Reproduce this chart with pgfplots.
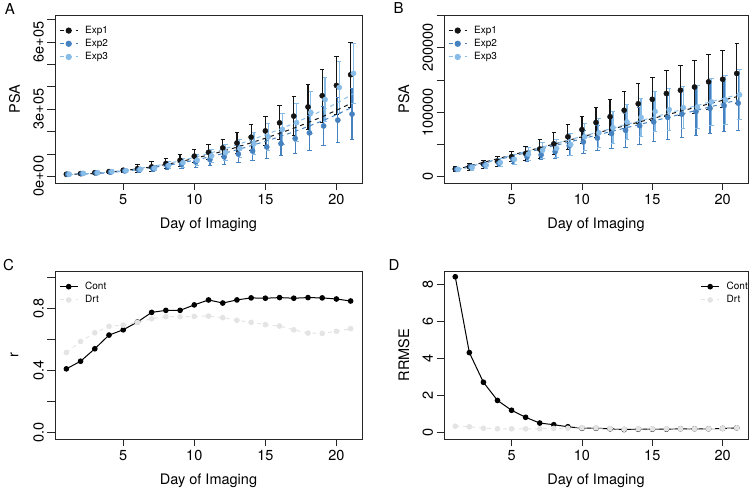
\documentclass[border=0pt]{standalone}
\usepackage{fontspec}
\setmainfont{TeX Gyre Heros}
\usepackage{pgfplots}
\usepackage{pgfplotstable}
\pgfplotsset{compat=1.18}

\definecolor{expone}{RGB}{20,20,20}
\definecolor{exptwo}{RGB}{70,130,192}
\definecolor{expthree}{RGB}{135,188,232}
\definecolor{drtgray}{RGB}{228,228,228}

% ---- panel A: PSA, exponential scale ----
\pgfplotstableread{
x y e
1 9000 2000
2 12000 3000
3 16000 4000
4 21000 7000
5 27000 10000
6 34000 17000
7 42000 22000
8 57000 24000
9 72000 27000
10 90000 29000
11 107000 33000
12 127000 39000
13 149000 47000
14 175000 58000
15 203000 66000
16 239000 76000
17 269000 86000
18 310000 102000
19 360000 118000
20 406000 131000
21 454000 146000
}\Aone
\pgfplotstableread{
x y e
1.1 9000 2000
2.1 12000 3000
3.1 15000 4000
4.1 18000 5000
5.1 24000 7000
6.1 28000 9000
7.1 34000 12000
8.1 45000 16000
9.1 54000 20000
10.1 64000 24000
11.1 75000 28000
12.1 87000 33000
13.1 99000 39000
14.1 113000 43000
15.1 131000 52000
16.1 146000 55000
17.1 169000 68000
18.1 194000 78000
19.1 225000 89000
20.1 251000 102000
21.1 278000 114000
}\Atwo
\pgfplotstableread{
x y e
1.2 9000 2000
2.2 13000 3000
3.2 16000 4000
4.2 21000 5000
5.2 25000 7000
6.2 31000 9000
7.2 37000 12000
8.2 49000 16000
9.2 61000 20000
10.2 72000 25000
11.2 91000 30000
12.2 106000 36000
13.2 124000 42000
14.2 146000 50000
15.2 176000 60000
16.2 210000 70000
17.2 240000 85000
18.2 285000 95000
19.2 343000 97000
20.2 397000 118000
21.2 460000 134000
}\Athree
% fitted curves, panel A
\pgfplotstableread{
x a b c
1 8000 8000 8000
2 10000 10000 10000
3 13000 12000 14000
4 18000 17000 19000
5 25000 23000 27000
6 33000 30000 36000
7 42000 39000 46000
8 53000 49000 58000
9 65000 60000 72000
10 80000 73000 88000
11 95000 87000 105000
12 112000 103000 124000
13 130000 120000 145000
14 150000 139000 167000
15 170000 158000 190000
16 192000 179000 215000
17 215000 201000 242000
18 240000 225000 270000
19 266000 250000 300000
20 295000 278000 333000
21 325000 308000 370000
}\Afit

% ---- panel B ----
\pgfplotstableread{
x y e
1 12000 3500
2 15500 5500
3 19600 6000
4 24000 8000
5 31000 8000
6 36000 11500
7 43000 14000
8 51000 17000
9 62000 19000
10 73000 21000
11 84000 23000
12 93000 27000
13 103000 29000
14 113000 31000
15 120000 33000
16 129000 36000
17 134000 39000
18 139000 41000
19 147000 43000
20 151000 44000
21 160000 47000
}\Bone
\pgfplotstableread{
x y e
1.1 11500 2500
2.1 15500 2500
3.1 18000 3000
4.1 21000 4000
5.1 27000 6000
6.1 31000 8000
7.1 34000 8000
8.1 39000 10000
9.1 48000 15000
10.1 54000 18000
11.1 60000 20000
12.1 67000 23000
13.1 72000 26000
14.1 79000 29000
15.1 85000 31000
16.1 92000 34000
17.1 97000 36000
18.1 101000 37000
19.1 106000 39000
20.1 110000 40000
21.1 114000 43000
}\Btwo
\pgfplotstableread{
x y e
1.2 11500 3000
2.2 14500 4000
3.2 18000 5000
4.2 22000 6000
5.2 27000 8000
6.2 35000 10000
7.2 41000 12000
8.2 44000 14000
9.2 50000 17000
10.2 62000 21000
11.2 68000 23000
12.2 76000 25000
13.2 85000 27000
14.2 92000 29000
15.2 101000 31000
16.2 104000 32000
17.2 107000 33000
18.2 108000 34000
19.2 116000 36000
20.2 119000 38000
21.2 127000 39000
}\Bthree
\pgfplotstableread{
x a b c
1 11000 10500 11000
2 16700 15900 16900
3 22300 21400 22700
4 28000 26800 28600
5 33600 32200 34400
6 39300 37600 40300
7 44900 43100 46100
8 50600 48500 52000
9 56200 53900 57800
10 61900 59300 63700
11 67500 64800 69500
12 73200 70200 75400
13 78800 75600 81200
14 84500 81000 87100
15 90100 86500 92900
16 95800 91900 98800
17 101400 97300 104600
18 107100 102700 110500
19 112700 108200 116300
20 118400 113600 122200
21 124000 119000 128000
}\Bfit

% ---- panels C and D ----
\pgfplotstableread{
x cont drt
1 0.411 0.516
2 0.460 0.587
3 0.540 0.643
4 0.628 0.684
5 0.662 0.692
6 0.712 0.710
7 0.774 0.733
8 0.787 0.746
9 0.787 0.746
10 0.822 0.748
11 0.854 0.750
12 0.834 0.740
13 0.854 0.723
14 0.867 0.710
15 0.865 0.695
16 0.869 0.686
17 0.865 0.662
18 0.869 0.641
19 0.867 0.639
20 0.860 0.652
21 0.847 0.669
}\Cdat
\pgfplotstableread{
x cont drt
1 8.42 0.36
2 4.33 0.33
3 2.73 0.25
4 1.75 0.22
5 1.22 0.22
6 0.84 0.22
7 0.53 0.22
8 0.44 0.24
9 0.33 0.25
10 0.25 0.27
11 0.25 0.27
12 0.22 0.24
13 0.18 0.20
14 0.20 0.22
15 0.20 0.22
16 0.20 0.22
17 0.22 0.22
18 0.22 0.22
19 0.22 0.22
20 0.24 0.24
21 0.27 0.27
}\Ddat

\pgfplotsset{
  rbox/.style={
    scale only axis,
    anchor=south west,
    axis line style={line width=0.8pt, black!85},
    every tick/.style={line width=0.8pt, black!85},
    major tick length=7.5pt,
    tick align=outside,
    tick pos=left,
    xmin=0.2, xmax=21.8,
    xtick={5,10,15,20},
    minor tick num=0,
    scaled y ticks=false,
    tick label style={font=\fontsize{14.5}{16}\selectfont},
    yticklabel style={rotate=90, anchor=south},
    /pgf/number format/assume math mode=true,
    label style={font=\fontsize{14.5}{16}\selectfont},
    xlabel={Day of Imaging},
    xlabel style={at={(axis description cs:0.5,-0.25)}, anchor=center},
    ylabel style={at={(axis description cs:-0.132,0.5)}, anchor=center},
    legend image code/.code={\draw[mark repeat=2, mark phase=2, #1]
      plot coordinates {(0pt,0pt) (9pt,0pt) (18pt,0pt)};},
    legend style={draw=none, fill=none, font=\fontsize{10}{12}\selectfont,
      at={(axis description cs:0,1)}, anchor=north west,
      xshift=1pt, yshift=-7pt, row sep=0.4pt,
      /tikz/every odd column/.style={column sep=5pt}},
    legend cell align=left,
  },
  ebar/.style={forget plot, mark=*, mark size=2.6pt, only marks, #1,
    error bars/.cd, y dir=both, y explicit,
    error bar style={line width=1.25pt, #1},
    error mark options={rotate=90, mark size=2.2pt, line width=1pt, #1}},
  fitline/.style={forget plot, no marks, #1, line width=1pt, dash pattern=on 4pt off 4pt},
}

\begin{document}
\begin{tikzpicture}
\useasboundingbox (0pt,0pt) rectangle (752pt,492pt);

% A
\begin{axis}[rbox, at={(55pt,309pt)}, width=307pt, height=168pt,
  ymin=-30000, ymax=721000,
  ytick={0,100000,200000,300000,400000,500000,600000,700000},
  yticklabels={0e+00,,,3e+05,,,6e+05,},
  ylabel={PSA}]
\addlegendimage{expone, line width=1pt, dash pattern=on 4pt off 4pt, mark=*, mark size=2.6pt, mark options={solid}}
\addlegendentry{Exp1}
\addlegendimage{exptwo, line width=1pt, dash pattern=on 4pt off 4pt, mark=*, mark size=2.6pt, mark options={solid}}
\addlegendentry{Exp2}
\addlegendimage{expthree, line width=1pt, dash pattern=on 4pt off 4pt, mark=*, mark size=2.6pt, mark options={solid}}
\addlegendentry{Exp3}
\addplot[ebar=expone] table[x=x, y=y, y error=e] {\Aone};
\addplot[ebar=exptwo] table[x=x, y=y, y error=e] {\Atwo};
\addplot[ebar=expthree] table[x=x, y=y, y error=e] {\Athree};
\addplot[fitline=expone] table[x=x, y=a] {\Afit};
\addplot[fitline=exptwo] table[x expr=\thisrow{x}+0.1, y=b] {\Afit};
\addplot[fitline=expthree] table[x expr=\thisrow{x}+0.2, y=c] {\Afit};
\end{axis}

% B
\begin{axis}[rbox, at={(444pt,309pt)}, width=304pt, height=168pt,
  ymin=-9600, ymax=250500,
  ytick={0,50000,100000,150000,200000,250000},
  yticklabels={0,,100000,,200000,},
  ylabel={PSA}]
\addlegendimage{expone, line width=1pt, dash pattern=on 4pt off 4pt, mark=*, mark size=2.6pt, mark options={solid}}
\addlegendentry{Exp1}
\addlegendimage{exptwo, line width=1pt, dash pattern=on 4pt off 4pt, mark=*, mark size=2.6pt, mark options={solid}}
\addlegendentry{Exp2}
\addlegendimage{expthree, line width=1pt, dash pattern=on 4pt off 4pt, mark=*, mark size=2.6pt, mark options={solid}}
\addlegendentry{Exp3}
\addplot[ebar=expone] table[x=x, y=y, y error=e] {\Bone};
\addplot[ebar=exptwo] table[x=x, y=y, y error=e] {\Btwo};
\addplot[ebar=expthree] table[x=x, y=y, y error=e] {\Bthree};
\addplot[fitline=expone] table[x=x, y=a] {\Bfit};
\addplot[fitline=exptwo] table[x expr=\thisrow{x}+0.1, y=b] {\Bfit};
\addplot[fitline=expthree] table[x expr=\thisrow{x}+0.2, y=c] {\Bfit};
\end{axis}

% C
\begin{axis}[rbox, at={(55pt,53pt)}, width=307pt, height=168pt,
  ymin=-0.04, ymax=1.04,
  ytick={0,0.2,0.4,0.6,0.8,1.0},
  yticklabels={0.0,,0.4,,0.8,},
  ylabel={r}]
\addplot[black, line width=1pt, mark=*, mark size=2.3pt] table[x=x, y=cont] {\Cdat};
\addlegendentry{Cont}
\addplot[drtgray, line width=1pt, dash pattern=on 4pt off 4pt, mark=*, mark size=2.3pt, mark options={solid}] table[x=x, y=drt] {\Cdat};
\addlegendentry{Drt}
\end{axis}

% D
\begin{axis}[rbox, at={(444pt,53pt)}, width=304pt, height=168pt,
  ymin=-0.33, ymax=8.73,
  ytick={0,2,4,6,8},
  yticklabels={0,2,4,6,8},
  ylabel={RRMSE},
  legend style={at={(axis description cs:1,1)}, anchor=north east, xshift=4pt}]
\addplot[black, line width=1pt, mark=*, mark size=2.3pt] table[x=x, y=cont] {\Ddat};
\addlegendentry{Cont}
\addplot[drtgray, line width=1pt, dash pattern=on 4pt off 4pt, mark=*, mark size=2.3pt, mark options={solid}] table[x=x, y=drt] {\Ddat};
\addlegendentry{Drt}
\end{axis}

\node[font=\fontsize{15}{16}\selectfont] at (10pt,483pt) {A};
\node[font=\fontsize{15}{16}\selectfont] at (398.5pt,484pt) {B};
\node[font=\fontsize{15}{16}\selectfont] at (8.5pt,227pt) {C};
\node[font=\fontsize{15}{16}\selectfont] at (394pt,227pt) {D};
\end{tikzpicture}
\end{document}
